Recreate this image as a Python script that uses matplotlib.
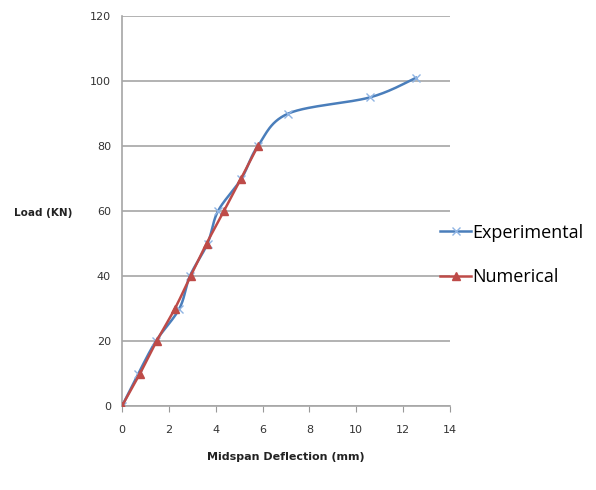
import numpy as np
import matplotlib.pyplot as plt
from matplotlib.lines import Line2D

exp_defl = [0, 0.7, 1.45, 2.45, 2.9, 3.65, 4.1, 5.1, 5.8, 7.1, 10.6, 12.55]
exp_load = [0, 10, 20, 30, 40, 50, 60, 70, 80, 90, 95, 101]

num_defl = [0, 0.77, 1.48, 2.26, 2.93, 3.61, 4.35, 5.08, 5.8]
num_load = [0, 10, 20, 30, 40, 50, 60, 70, 80]

x_ticks = [0, 2, 4, 6, 8, 10, 12, 14]
y_ticks = [0, 20, 40, 60, 80, 100, 120]

blue = "#4a7ebb"
red = "#be4b48"


# geglättete Linie wie in Excel (Catmull-Rom)
def smooth(x, y, n=30):
    p = np.column_stack([x, y]).astype(float)
    p = np.vstack([p[0], p, p[-1]])
    out = []
    t = np.linspace(0, 1, n)[:, None]
    for i in range(1, len(p) - 2):
        p0, p1, p2, p3 = p[i - 1], p[i], p[i + 1], p[i + 2]
        seg = 0.5 * ((2 * p1) + (-p0 + p2) * t + (2 * p0 - 5 * p1 + 4 * p2 - p3) * t**2
                     + (-p0 + 3 * p1 - 3 * p2 + p3) * t**3)
        out.append(seg)
    s = np.vstack(out)
    return s[:, 0], s[:, 1]


fig = plt.figure(figsize=(5.96, 4.90), dpi=100)
ax = fig.add_axes([0.2047, 0.1714, 0.5503, 0.7959])

sx, sy = smooth(exp_defl, exp_load)
ax.plot(sx, sy, color=blue, lw=1.8, zorder=3)
ax.plot(exp_defl, exp_load, ls="none", marker="x", ms=6, mew=1.0, color="#8fb4e3", zorder=4)

sx, sy = smooth(num_defl, num_load)
ax.plot(sx, sy, color=red, lw=1.8, zorder=5)
ax.plot(num_defl, num_load, ls="none", marker="^", ms=5.5, color=red, zorder=6)

ax.set_xlim(0, 14)
ax.set_ylim(0, 120)
ax.set_xticks(x_ticks)
ax.set_yticks(y_ticks)
ax.tick_params(axis="both", labelsize=8, colors="#333333", length=0, pad=8)
ax.tick_params(axis="x", length=4, color="#999999", direction="out", pad=10)
ax.grid(axis="y", color="#a6a6a6", lw=1.2)
ax.set_axisbelow(True)
for s in ["top", "right"]:
    ax.spines[s].set_visible(False)
for s in ["left", "bottom"]:
    ax.spines[s].set_color("#a6a6a6")
    ax.spines[s].set_linewidth(1.2)

ax.set_xlabel("Midspan Deflection (mm)", fontsize=8, fontweight="bold", color="#222222", labelpad=12)
fig.text(0.072, 0.565, "Load (KN)", fontsize=7.5, fontweight="bold", color="#222222", ha="center", va="center")

handles = [Line2D([], [], color=blue, marker="x", mec="#8fb4e3", ms=6, lw=1.8),
           Line2D([], [], color=red, marker="^", ms=5.5, lw=1.8)]
fig.legend(handles, ["Experimental", "Numerical"], loc="center left",
           bbox_to_anchor=(0.738, 0.48), frameon=False, borderpad=0, borderaxespad=0,
           handlelength=1.75, handletextpad=0.05, labelspacing=1.45,
           prop={"family": "Open Sans", "size": 13})

fig.savefig("out.png", dpi=100)
